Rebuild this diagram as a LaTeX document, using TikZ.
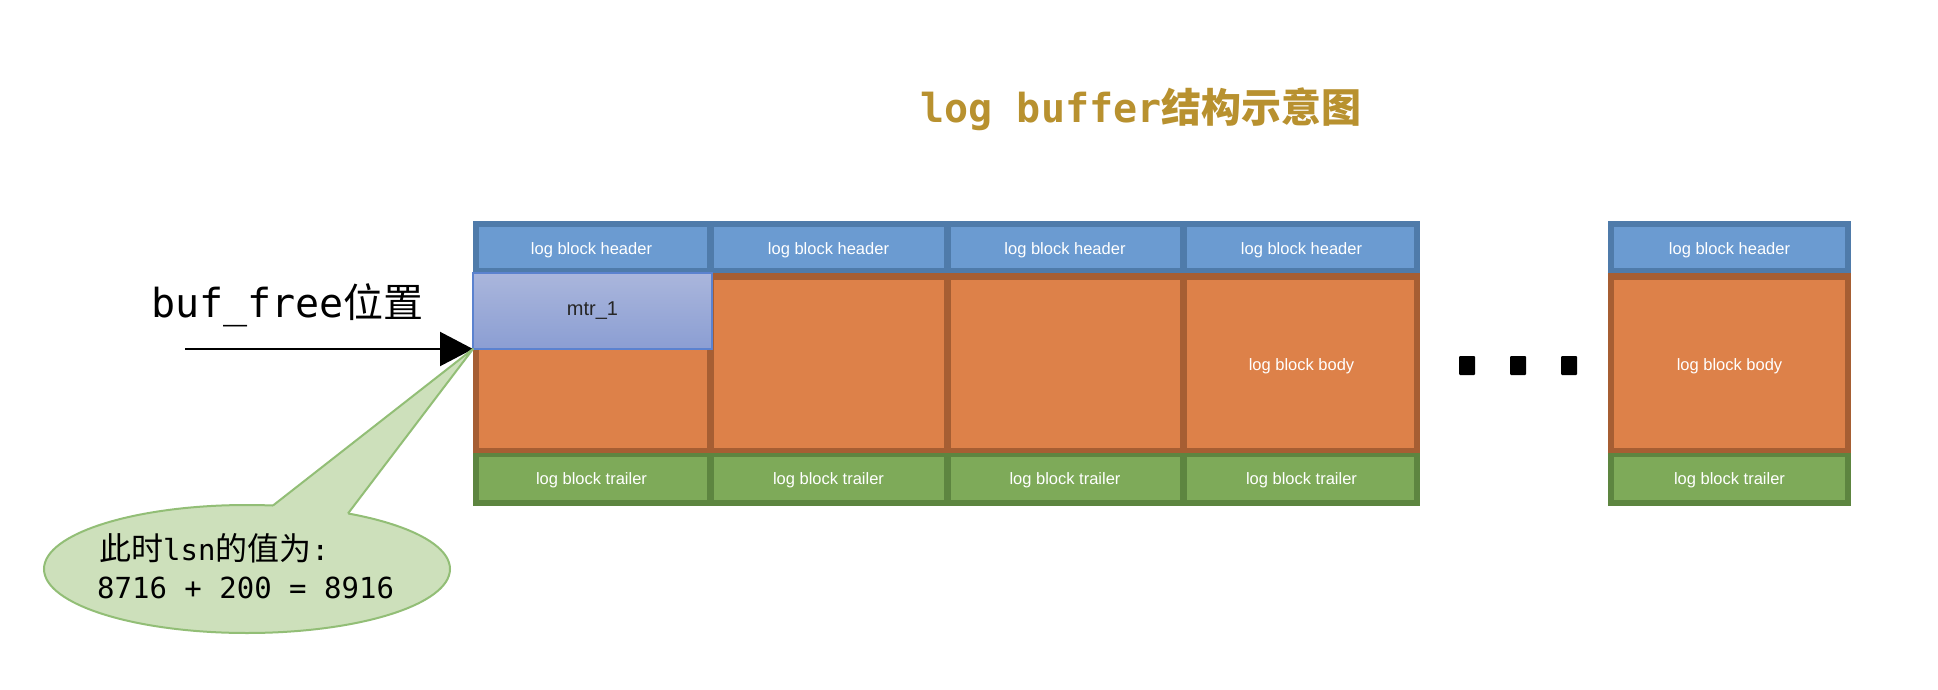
\documentclass[tikz,border=0pt]{standalone}
\usepackage{fontspec}
\setmainfont{Liberation Sans}
\newfontfamily\cjk{Noto Sans CJK SC}
\newfontfamily\mono{DejaVu Sans Mono}
\usetikzlibrary{arrows.meta}
\definecolor{hfill}{HTML}{6B9BD1}
\definecolor{hbord}{HTML}{4F7BAA}
\definecolor{bfill}{HTML}{DD8149}
\definecolor{bbord}{HTML}{A65E33}
\definecolor{tfill}{HTML}{7EAA59}
\definecolor{tbord}{HTML}{5D8540}
\definecolor{mtop}{HTML}{AAB6DC}
\definecolor{mbot}{HTML}{8B9ED3}
\definecolor{mbord}{HTML}{5B82CF}
\definecolor{cfill}{HTML}{CDE0BB}
\definecolor{cbord}{HTML}{92BE76}
\definecolor{gold}{HTML}{B8912F}
\tikzset{
  blabel/.style={text=white, font=\fontsize{16.5}{19}\selectfont, inner sep=0pt},
}
\begin{document}
\begin{tikzpicture}[x=1pt,y=-1pt]
\useasboundingbox (0,0) rectangle (1938,690);
\fill[white] (0,0) rectangle (1938,690);
% title
\node[text=gold, font=\fontsize{40}{44}\selectfont, inner sep=0pt] (title) at (1141,109) {{\mono\bfseries log buffer}{\cjk\bfseries 结构示意图}};
% main block borders
\fill[hbord] (473,221) rectangle (1420,273);
\fill[bbord] (473,273) rectangle (1420,453);
\fill[tbord] (473,453) rectangle (1420,506);
\foreach \a/\b in {479/706.5, 713.5/943.5, 950.5/1179.5, 1186.5/1414} {
  \fill[hfill] (\a,227) rectangle (\b,268);
  \fill[bfill] (\a,279.5) rectangle (\b,447.5);
  \fill[tfill] (\a,457) rectangle (\b,500);
}
% last block
\fill[hbord] (1608,221) rectangle (1851,273);
\fill[bbord] (1608,273) rectangle (1851,453);
\fill[tbord] (1608,453) rectangle (1851,506);
\fill[hfill] (1614,227) rectangle (1845,268);
\fill[bfill] (1614,279.5) rectangle (1845,447.5);
\fill[tfill] (1614,457) rectangle (1845,500);
% mtr_1
\node[draw=mbord, line width=1.8pt, top color=mtop, bottom color=mbot, minimum width=239pt, minimum height=76pt, inner sep=0pt, outer sep=0pt, anchor=north west, font=\fontsize{20}{24}\selectfont, text=black!85] (mtr) at (473,273) {mtr\_1};
% labels
\foreach \x/\n in {591.5/1, 828.5/2, 1065/3, 1301.5/4, 1729.5/5} {
  \node[blabel] (h\n) at (\x,250.5) {log block header};
  \node[blabel] (t\n) at (\x,480) {log block trailer};
}
\node[blabel] (b4) at (1301.5,366) {log block body};
\node[blabel] (b5) at (1729.5,366) {log block body};
% dots
\foreach \x/\n in {1467/1, 1518/2, 1569/3}
  \fill[black, rounded corners=1pt] (\x-8,356) rectangle (\x+8,375);
% buf_free label and arrow
\node[anchor=west, inner sep=0pt, font=\fontsize{40}{44}\selectfont] (buf) at (151,305) {{\mono buf\_free}{\cjk 位置}};
\coordinate (astart) at (185,349);
\draw[line width=2.2pt, -{Triangle[length=33pt,width=34pt]}] (astart) -- (mtr.south west);
% callout
\coordinate (ca) at (273,505.5);
\coordinate (cb) at (348,513.5);
\path[fill=cfill, draw=cbord, line width=2pt] (247,569) ellipse [x radius=203, y radius=64];
\fill[cfill] (ca) -- (mtr.south west) -- (cb) -- (348,525) -- (273,520) -- cycle;
\draw[cbord, line width=2pt, line join=round] (ca) -- (mtr.south west) -- (cb);
\node[anchor=west, inner sep=0pt, font=\fontsize{29}{32}\selectfont] (l1) at (99,548) {{\cjk\fontsize{32}{34}\selectfont 此时}{\mono lsn}{\cjk\fontsize{32}{34}\selectfont 的值为}{\mono :}};
\node[anchor=west, inner sep=0pt, font=\fontsize{29}{32}\selectfont] (l2) at (97,588) {{\mono 8716 + 200 = 8916}};
\end{tikzpicture}
\end{document}
